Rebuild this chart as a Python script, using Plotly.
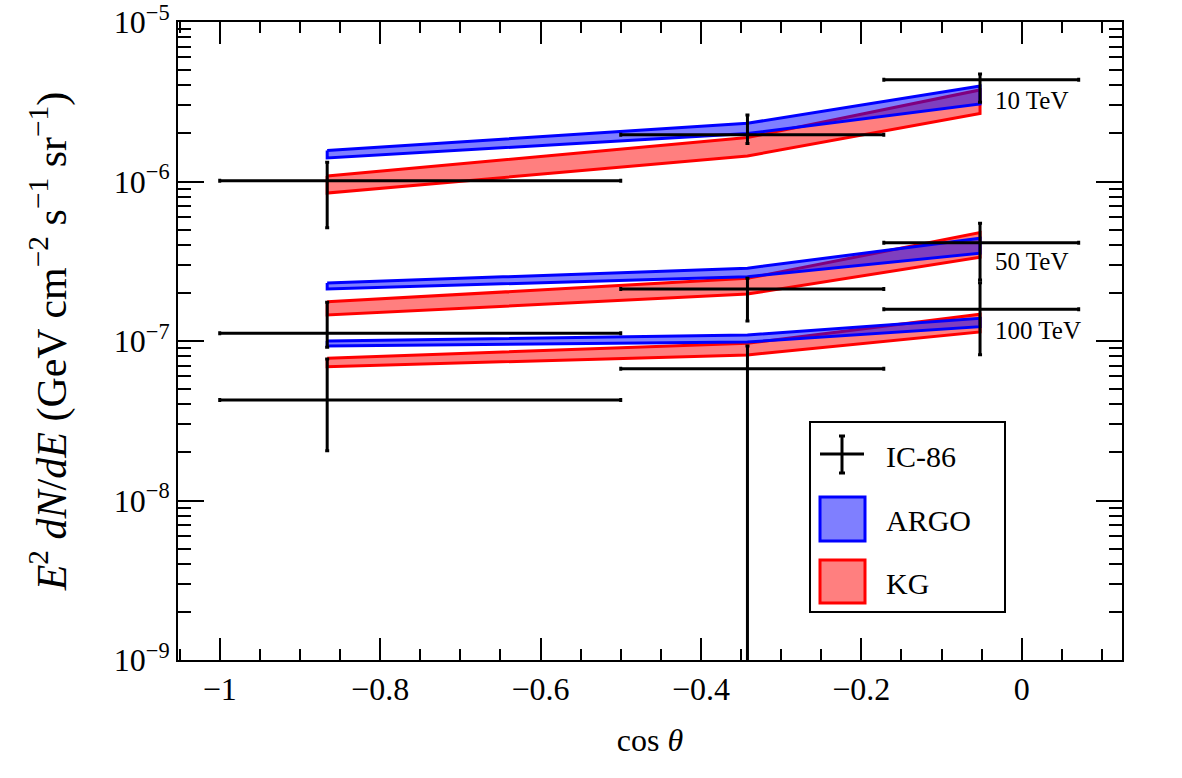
import numpy as np
import plotly.graph_objects as go

# ---------------- data ----------------
cos_theta = [-0.866, -0.342, -0.052]          # bin centres
bin_lo = [-1.0, -0.5, -0.172]                 # horizontal error bar edges
bin_hi = [-0.5, -0.172, 0.071]

# IC-86 measurements (value, upper edge, lower edge)
ic_10 = [1.01e-6, 1.965e-6, 4.35e-6]
ic_10_up = [1.32e-6, 2.61e-6, 4.72e-6]
ic_10_lo = [5.13e-7, 1.73e-6, 3.14e-6]

ic_50 = [1.12e-7, 2.12e-7, 4.13e-7]
ic_50_up = [1.75e-7, 2.47e-7, 5.47e-7]
ic_50_lo = [9.13e-8, 1.335e-7, 2.41e-7]

ic_100 = [4.27e-8, 6.71e-8, 1.58e-7]
ic_100_up = [7.70e-8, 9.31e-8, 2.32e-7]
ic_100_lo = [2.05e-8, 1e-11, 8.2e-8]

# ARGO bands (upper, lower)
argo_10_up = [1.565e-6, 2.317e-6, 3.97e-6]
argo_10_lo = [1.404e-6, 2.0e-6, 3.06e-6]
argo_50_up = [2.31e-7, 2.86e-7, 4.41e-7]
argo_50_lo = [2.12e-7, 2.53e-7, 3.55e-7]
argo_100_up = [1.0e-7, 1.09e-7, 1.387e-7]
argo_100_lo = [9.3e-8, 9.86e-8, 1.23e-7]

# KG bands (upper, lower)
kg_10_up = [1.083e-6, 1.888e-6, 3.75e-6]
kg_10_lo = [8.47e-7, 1.445e-6, 2.67e-6]
kg_50_up = [1.76e-7, 2.47e-7, 4.78e-7]
kg_50_lo = [1.455e-7, 1.97e-7, 3.35e-7]
kg_100_up = [7.8e-8, 9.68e-8, 1.47e-7]
kg_100_lo = [6.9e-8, 8.17e-8, 1.14e-7]

energy_labels = ["10 TeV", "50 TeV", "100 TeV"]
label_x = -0.036
label_y = [3.2e-6, 3.13e-7, 1.156e-7]

legend_names = ["IC-86", "ARGO", "KG"]

x_ticks = [-1.0, -0.8, -0.6, -0.4, -0.2, 0.0]
x_ticktext = ["\u22121", "\u22120.8", "\u22120.6", "\u22120.4", "\u22120.2", "0"]
y_exps = [-9, -8, -7, -6, -5]

FONT = "Liberation Serif"
BLUE, BLUE_F = "#0000ff", "rgba(0,0,255,0.5)"
RED, RED_F = "#ff0000", "rgba(255,0,0,0.5)"

# plot-area geometry (pixels) for the hand-made legend box
L, R, T, B = 178, 1122, 22, 660


def PX(x):
    return (x - L) / (R - L)


def PY(y):
    return (B - y) / (B - T)


fig = go.Figure()


def band(up, lo, line_col, fill_col, name):
    xs = cos_theta + cos_theta[::-1] + [cos_theta[0]]
    ys = up + lo[::-1] + [up[0]]
    fig.add_trace(go.Scatter(
        x=xs, y=ys, mode="lines", fill="toself",
        fillcolor=fill_col, line=dict(color=line_col, width=3),
        name=name, showlegend=False, hoverinfo="skip"))


# KG first, ARGO on top
band(kg_10_up, kg_10_lo, RED, RED_F, "KG")
band(kg_50_up, kg_50_lo, RED, RED_F, "KG")
band(kg_100_up, kg_100_lo, RED, RED_F, "KG")
band(argo_10_up, argo_10_lo, BLUE, BLUE_F, "ARGO")
band(argo_50_up, argo_50_lo, BLUE, BLUE_F, "ARGO")
band(argo_100_up, argo_100_lo, BLUE, BLUE_F, "ARGO")

for val, up, lo in [(ic_10, ic_10_up, ic_10_lo), (ic_50, ic_50_up, ic_50_lo),
                    (ic_100, ic_100_up, ic_100_lo)]:
    fig.add_trace(go.Scatter(
        x=cos_theta, y=val, mode="markers", name="IC-86",
        marker=dict(size=1, color="black"),
        error_x=dict(type="data", symmetric=False,
                     array=[h - c for h, c in zip(bin_hi, cos_theta)],
                     arrayminus=[c - l for l, c in zip(bin_lo, cos_theta)],
                     color="black", thickness=3, width=2),
        error_y=dict(type="data", symmetric=False,
                     array=[u - v for u, v in zip(up, val)],
                     arrayminus=[v - l for l, v in zip(lo, val)],
                     color="black", thickness=3, width=2),
        showlegend=False, hoverinfo="skip"))

for txt, yv in zip(energy_labels, label_y):
    fig.add_annotation(x=label_x, y=np.log10(yv), text=txt, showarrow=False,
                       xanchor="left", yanchor="middle",
                       font=dict(family=FONT, size=25, color="black"))

# ---------- legend (drawn by hand to match the square swatches) ----------
shapes = [
    dict(type="rect", xref="paper", yref="paper", x0=PX(810), x1=PX(1005),
         y0=PY(612), y1=PY(422), line=dict(color="black", width=2),
         fillcolor="white", layer="above"),
    dict(type="line", xref="paper", yref="paper", x0=PX(820), x1=PX(864),
         y0=PY(454), y1=PY(454), line=dict(color="black", width=3)),
    dict(type="line", xref="paper", yref="paper", x0=PX(842), x1=PX(842),
         y0=PY(436), y1=PY(473), line=dict(color="black", width=3)),
    dict(type="line", xref="paper", yref="paper", x0=PX(839), x1=PX(845),
         y0=PY(436), y1=PY(436), line=dict(color="black", width=3)),
    dict(type="line", xref="paper", yref="paper", x0=PX(839), x1=PX(845),
         y0=PY(473), y1=PY(473), line=dict(color="black", width=3)),
    dict(type="rect", xref="paper", yref="paper", x0=PX(820), x1=PX(865),
         y0=PY(541), y1=PY(497), line=dict(color=BLUE, width=3),
         fillcolor=BLUE_F),
    dict(type="rect", xref="paper", yref="paper", x0=PX(820), x1=PX(865),
         y0=PY(603), y1=PY(560), line=dict(color=RED, width=3),
         fillcolor=RED_F),
]
for name, yy in zip(legend_names, [456, 520, 583]):
    fig.add_annotation(x=PX(884), y=PY(yy), xref="paper", yref="paper",
                       text=name, showarrow=False, xanchor="left",
                       yanchor="middle",
                       font=dict(family=FONT, size=30, color="black"))

minor_y = [m * 10.0 ** e for e in range(-9, -5) for m in range(2, 10)]

fig.update_layout(
    width=1182, height=778,
    margin=dict(l=L, r=1182 - R, t=T, b=778 - B),
    paper_bgcolor="white", plot_bgcolor="white",
    font=dict(family=FONT, color="black", size=24),
    showlegend=False,
    shapes=shapes,
    xaxis=dict(range=[-1.052, 0.125], tickmode="array", tickvals=x_ticks,
               ticktext=x_ticktext, ticks="inside", ticklen=22, tickwidth=1.5,
               tickcolor="black", showline=True, linewidth=2, linecolor="black",
               mirror="allticks", showgrid=False, zeroline=False,
               automargin=False, ticklabelstandoff=0,
               ticklabeloverflow="allow",
               tickfont=dict(family=FONT, size=32),
               minor=dict(tickmode="linear", tick0=0, dtick=0.05, ticks="inside",
                          ticklen=11, tickwidth=1.5, tickcolor="black",
                          showgrid=False),
               title=dict(text="cos <i>θ</i>", font=dict(family=FONT, size=32),
                          standoff=22)),
    yaxis=dict(type="log", range=[-9, -5], tickmode="array",
               tickvals=[10.0 ** e for e in y_exps],
               ticktext=["10<sup>\u2212%d</sup>" % (-e) for e in y_exps],
               ticks="inside", ticklen=26, tickwidth=1.5, tickcolor="black",
               showline=True, linewidth=2, linecolor="black",
               mirror="allticks", showgrid=False, zeroline=False,
               automargin=False, ticklabeloverflow="allow",
               tickfont=dict(family=FONT, size=32),
               minor=dict(tickmode="array", tickvals=minor_y, ticks="inside",
                          ticklen=13, tickwidth=1.5, tickcolor="black",
                          showgrid=False),
               title=dict(text="<i>E</i><sup>2</sup> <i>dN</i>/<i>dE</i> (GeV cm<sup>\u22122</sup> s<sup>\u22121</sup> sr<sup>\u22121</sup>)",
                          font=dict(family=FONT, size=42), standoff=34)),
)

fig.write_html("out.html")
